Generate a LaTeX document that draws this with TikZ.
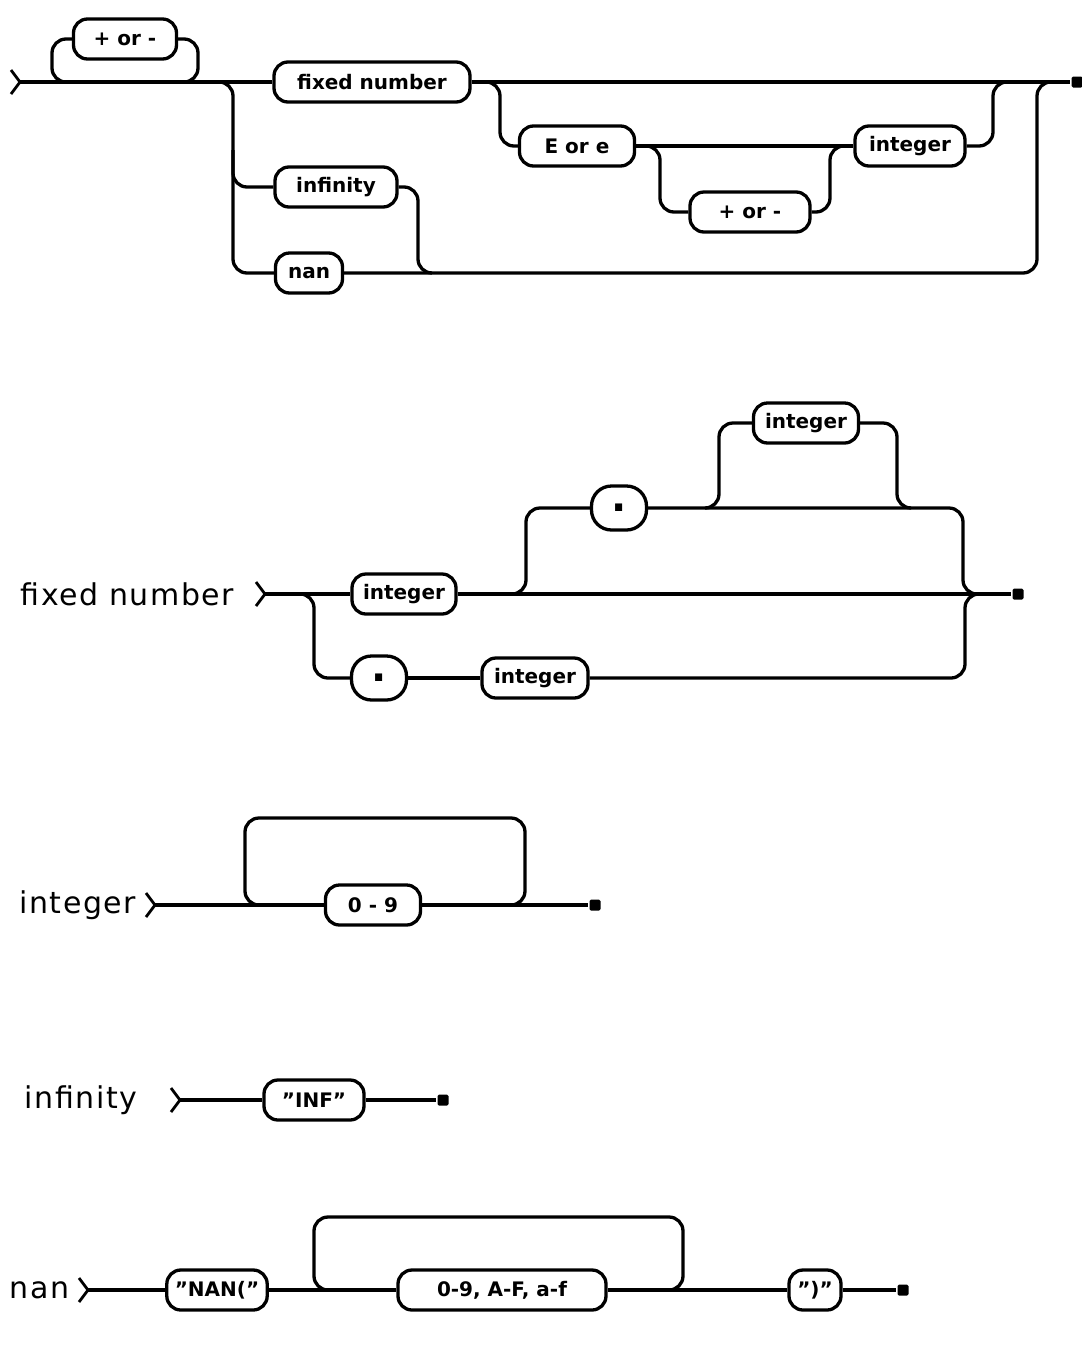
\documentclass[tikz,border=0pt]{standalone}
\usepackage{fontspec}
\setmainfont{DejaVu Sans}
\usepackage{tikz}
\usetikzlibrary{positioning}

\newcommand{\entrymark}[1]{\draw[line width=2.8pt] ([shift={(-9pt,12pt)}]#1) -- (#1) -- ([shift={(-9pt,-12pt)}]#1);}

\begin{document}
\begin{tikzpicture}[
        x=1pt, y=-1pt,
        line width=3.3pt,
        term/.style={rectangle, draw, rounded corners=14pt, minimum height=40pt, inner xsep=8pt, font=\bfseries\fontsize{20}{23}\selectfont},
        dotbox/.style={term, rounded corners=20pt, minimum width=55pt, minimum height=44pt, font=\bfseries\fontsize{40}{40}\selectfont},
        rail/.style={rounded corners=14pt},
        rulename/.style={font=\addfontfeature{LetterSpace=5}\fontsize{30}{34}\selectfont},
        stopmark/.style={fill, rectangle, rounded corners=1.5pt, minimum size=11pt, inner sep=0pt}
    ]
    \useasboundingbox (0,0) rectangle (1082,1345);

    % number
    \coordinate (tIn) at (20,82);
    \node[term, minimum width=103pt] (tSign) at (125,39) {+ or -};
    \node[term, minimum width=196pt] (tFixed) at (372,82) {fixed number};
    \node[term, minimum width=122pt] (tInf) at (336,187) {infinity};
    \node[term, minimum width=67pt] (tNan) at (309,273) {nan};
    \node[term, minimum width=115pt] (tExp) at (577,146) {E or e};
    \node[term, minimum width=120pt] (tExpSign) at (750,212) {+ or -};
    \node[term, minimum width=110pt] (tExpInt) at (910,146) {integer};
    \node[stopmark] (tOut) at (1077,82) {};
    \coordinate (tSignL) at (66,82);
    \coordinate (tSignR) at (182,82);
    \coordinate (tFork) at (216,82);
    \coordinate (tForkV) at (233,150);
    \coordinate (tInfJoin) at (432,273);
    \coordinate (tRet) at (1052,82);
    \coordinate (tExpFork) at (484,82);
    \coordinate (tSignFork) at (646,146);
    \coordinate (tSignJoin) at (846,146);
    \coordinate (tExpJoin) at (1008,82);

    \entrymark{tIn}
    \draw (tIn) -- (tFixed);
    \draw (tFixed) -- (tOut);
    \draw[rail] (tSign.west) -- (52,39) -- (52,82) -- (tSignL);
    \draw[rail] (tSign.east) -- (198,39) -- (198,82) -- (tSignR);
    \draw[rail] (tFork) -- (233,82) -- (233,273) -- (tNan);
    \draw[rail] (tForkV) |- (tInf);
    \draw[rail] (tInf) -- (418,187) -- (418,273) -- (tInfJoin);
    \draw[rail] (tNan) -- (1037,273) -- (1037,82) -- (tRet);
    \draw[rail] (tExpFork) -- (500,82) -- (500,146) -- (tExp);
    \draw (tExp) -- (tExpInt);
    \draw[rail] (tSignFork) -- (660,146) -- (660,212) -- (tExpSign);
    \draw[rail] (tExpSign) -- (830,212) -- (830,146) -- (tSignJoin);
    \draw[rail] (tExpInt) -- (993,146) -- (993,82) -- (tExpJoin);

    % fixed number
    \coordinate (fIn) at (265,594);
    \node[rulename, left=26pt of fIn] (fName) {fixed number};
    \node[term, minimum width=104pt] (fInt) at (404,594) {integer};
    \node[dotbox] (fDot) at (379,678) {.};
    \node[term, minimum width=106pt] (fInt2) at (535,678) {integer};
    \node[dotbox] (fDot2) at (619,508) {.};
    \node[term, minimum width=105pt] (fInt3) at (806,423) {integer};
    \node[stopmark] (fOut) at (1018,594) {};
    \coordinate (fFork) at (298,594);
    \coordinate (fFork2) at (512,594);
    \coordinate (fFork3) at (705,508);
    \coordinate (fJoin) at (978,594);
    \coordinate (fJoin3) at (910,508);

    \entrymark{fIn}
    \draw (fIn) -- (fInt);
    \draw (fInt) -- (fOut);
    \draw[rail] (fFork) -- (314,594) -- (314,678) -- (fDot);
    \draw (fDot) -- (fInt2);
    \draw[rail] (fInt2) -- (965,678) -- (965,594) -- (fJoin);
    \draw[rail] (fFork2) -- (526,594) -- (526,508) -- (fDot2);
    \draw[rail] (fDot2) -- (963,508) -- (963,594) -- (fJoin);
    \draw[rail] (fFork3) -- (719,508) -- (719,423) -- (fInt3);
    \draw[rail] (fInt3) -- (897,423) -- (897,508) -- (fJoin3);

    % integer
    \coordinate (iIn) at (155,905);
    \node[rulename, left=14pt of iIn] (iName) {integer};
    \node[term, minimum width=95pt] (iDigit) at (373,905) {0 - 9};
    \node[stopmark] (iOut) at (595,905) {};
    \coordinate (iLoopL) at (262,905);
    \coordinate (iLoopR) at (511,905);

    \entrymark{iIn}
    \draw (iIn) -- (iDigit);
    \draw (iDigit) -- (iOut);
    \draw[rail] (iLoopR) -- (525,905) -- (525,818) -- (245,818) -- (245,905) -- (iLoopL);

    % infinity
    \coordinate (yIn) at (180,1100);
    \node[rulename, left=38pt of yIn] (yName) {infinity};
    \node[term, minimum width=100pt] (yInf) at (314,1100) {"INF"};
    \node[stopmark] (yOut) at (443,1100) {};

    \entrymark{yIn}
    \draw (yIn) -- (yInf);
    \draw (yInf) -- (yOut);

    % nan
    \coordinate (nIn) at (88,1290);
    \node[rulename, left=14pt of nIn] (nName) {nan};
    \node[term, minimum width=78pt] (nOpen) at (217,1290) {"NAN("};
    \node[term, minimum width=208pt] (nHex) at (502,1290) {0-9, A-F, a-f};
    \node[term, minimum width=52pt] (nClose) at (815,1290) {")"};
    \node[stopmark] (nOut) at (903,1290) {};
    \coordinate (nLoopL) at (330,1290);
    \coordinate (nLoopR) at (668,1290);

    \entrymark{nIn}
    \draw (nIn) -- (nOpen);
    \draw (nOpen) -- (nHex);
    \draw (nHex) -- (nClose);
    \draw (nClose) -- (nOut);
    \draw[rail] (nLoopR) -- (683,1290) -- (683,1217) -- (314,1217) -- (314,1290) -- (nLoopL);
\end{tikzpicture}
\end{document}
